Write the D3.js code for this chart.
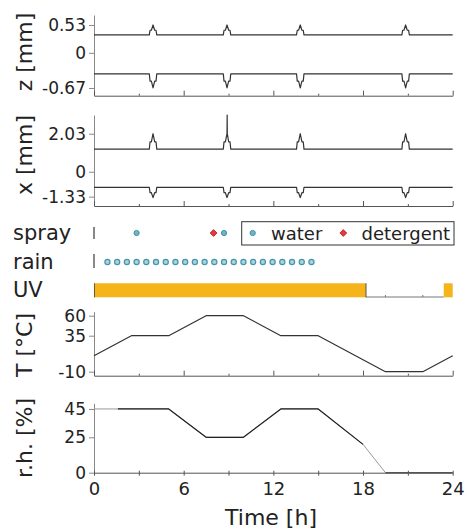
<!DOCTYPE html>
<meta charset="utf-8">
<style>
body { margin: 0; background: #fff; }
svg { font-family: "DejaVu Sans", Verdana, sans-serif; }
.left .domain { stroke: #888; }
.left .tick line { stroke: #888; }
.bottom .domain { stroke: #555; }
.bottom .tick line { stroke: #555; }
.tick text { fill: #222; }
</style>
<body>
<script src="https://cdn.jsdelivr.net/npm/d3@7"></script>
<script>
// time of the pulses seen in z and x (hours)
var pulseHours = [3.95, 8.9, 13.8, 20.85];
var pulseOffsets = [-0.25, -0.2, -0.11, 0, 0.11, 0.2, 0.25];

// levels: base, shoulder, peak
var zUpper = [0.34, 0.43, 0.53];
var zLower = [-0.40, -0.54, -0.67];
var xUpper = [1.21, 1.6, 2.03];
var xLower = [-0.83, -1.12, -1.38];
var xUpperSpikes = [2.03, 3.03, 2.03, 2.03];

var sprayWater = [2.85, 8.7];
var sprayDetergent = [8.0];
var rainHours = [0.9, 1.55, 2.2, 2.85, 3.5, 4.15, 4.8, 5.45, 6.1, 6.75, 7.4,
                 8.05, 8.7, 9.35, 10.0, 10.65, 11.3, 11.95, 12.6, 13.25, 13.9, 14.55];
var uvOn = [[0, 18.2], [23.4, 24]];
var uvMarks = [19.5, 22];

var tHours = [0, 2.5, 5, 7.5, 10, 12.5, 15, 19.5, 22, 24];
var tValues = [10, 35, 35, 60, 60, 35, 35, -10, -10, 10];

var rhHours = [0, 1.6, 5, 7.5, 10, 12.5, 15, 18, 19.5, 24];
var rhValues = [45, 45, 45, 25, 25, 45, 45, 20, 0, 0];

var hourTicks = [0, 3, 6, 9, 12, 15, 18, 21, 24];

var svg = d3.select("body").append("svg")
    .attr("width", 467)
    .attr("height", 531);

var x = d3.scaleLinear().domain([0, 24]).range([94, 452.7]);

var zY = d3.scaleLinear().domain([-0.817, 0.72]).range([95.7, 15]);
var xY = d3.scaleLinear().domain([-1.83, 3.03]).range([206, 115]);
var tY = d3.scaleLinear().domain([-15, 65]).range([375.7, 311.7]);
var rhY = d3.scaleLinear().domain([0, 49]).range([472.7, 403.3]);

function leftAxis(y, values) {
  svg.append("g")
      .attr("class", "left")
      .attr("transform", "translate(" + x(0) + ",0)")
      .call(d3.axisLeft(y).tickValues(values).tickSize(5).tickSizeOuter(0).tickPadding(3)
            .tickFormat(function(d) { return String(d); }))
      .attr("font-size", 17)
      .attr("font-family", null);
}

function bottomAxis(y0, labels) {
  var g = svg.append("g")
      .attr("class", "bottom")
      .attr("transform", "translate(0," + y0 + ")")
      .call(d3.axisBottom(x).tickValues(hourTicks).tickSizeOuter(0)
            .tickFormat(function(d) { return labels && d % 6 == 0 ? d : ""; }))
      .attr("font-size", 18)
      .attr("font-family", null);
  g.selectAll(".tick line")
      .attr("y1", function(d) { return labels ? -2 : 0; })
      .attr("y2", function(d) { return labels ? 3 : (d % 6 ? -2 : -5); });
  g.selectAll(".tick text").attr("y", 10);
}

function yTitle(text, cy) {
  svg.append("text")
      .attr("transform", "translate(32," + cy + ") rotate(-90)")
      .attr("text-anchor", "middle")
      .attr("font-size", 22)
      .attr("fill", "#222")
      .text(text);
}

function pulseLine(levels, spikes) {
  var pts = [[0, levels[0]]];
  pulseHours.forEach(function(h, i) {
    var lv = [levels[0], levels[1], levels[1], levels[2], levels[1], levels[1], levels[0]];
    pulseOffsets.forEach(function(o, j) {
      pts.push([h + o, lv[j]]);
      // a thin extra spike on top of the peak
      if (j == 3 && spikes && spikes[i] > levels[2]) {
        pts.push([h + 0.01, spikes[i]], [h + 0.02, levels[2]]);
      }
    });
  });
  pts.push([24, levels[0]]);
  return pts;
}

function drawLine(pts, y, color, width) {
  svg.append("path")
      .datum(pts)
      .attr("fill", "none")
      .attr("stroke", color)
      .attr("stroke-width", width)
      .attr("stroke-linejoin", "round")
      .attr("d", d3.line()
        .x(function(d) { return x(d[0]); })
        .y(function(d) { return y(d[1]); }));
}

// z panel
leftAxis(zY, [0.53, 0, -0.67]);
bottomAxis(95.7, false);
drawLine(pulseLine(zUpper), zY, "#333", 1.2);
drawLine(pulseLine(zLower), zY, "#333", 1.2);
yTitle("z [mm]", 52);

// x panel
leftAxis(xY, [2.03, 0, -1.33]);
bottomAxis(206, false);
drawLine(pulseLine(xUpper, xUpperSpikes), xY, "#333", 1.2);
drawLine(pulseLine(xLower), xY, "#333", 1.2);
yTitle("x [mm]", 155);

// spray / rain / UV
var rowLabels = [["spray", 240], ["rain", 269], ["UV", 297]];
svg.selectAll(".rowlabel")
    .data(rowLabels)
  .enter().append("text")
    .attr("x", 13)
    .attr("y", function(d) { return d[1]; })
    .attr("font-size", 21)
    .attr("fill", "#222")
    .text(function(d) { return d[0]; });

svg.append("line").attr("x1", x(0)).attr("x2", x(0)).attr("y1", 227).attr("y2", 239)
    .attr("stroke", "#888").attr("stroke-width", 2);
svg.append("line").attr("x1", x(0)).attr("x2", x(0)).attr("y1", 254).attr("y2", 268)
    .attr("stroke", "#888").attr("stroke-width", 2);

svg.selectAll(".water")
    .data(sprayWater)
  .enter().append("circle")
    .attr("cx", function(d) { return x(d); })
    .attr("cy", 233)
    .attr("r", 2.6)
    .attr("fill", "#74b3c6")
    .attr("stroke", "#3f8fa7");

svg.selectAll(".det")
    .data(sprayDetergent)
  .enter().append("path")
    .attr("transform", function(d) { return "translate(" + x(d) + ",233) rotate(45)"; })
    .attr("d", "M-2.4,-2.4H2.4V2.4H-2.4Z")
    .attr("fill", "#e8383d")
    .attr("stroke", "#b52027")
    .attr("stroke-width", 0.8);

svg.selectAll(".rain")
    .data(rainHours)
  .enter().append("circle")
    .attr("cx", function(d) { return x(d); })
    .attr("cy", 262)
    .attr("r", 2.6)
    .attr("fill", "#a9d2de")
    .attr("stroke", "#4795ab")
    .attr("stroke-width", 1.2);

// UV
svg.append("line").attr("x1", x(uvOn[0][1])).attr("x2", x(uvOn[1][0]))
    .attr("y1", 297).attr("y2", 297).attr("stroke", "#777");
svg.selectAll(".uvmark")
    .data(uvMarks)
  .enter().append("line")
    .attr("x1", function(d) { return x(d); })
    .attr("x2", function(d) { return x(d); })
    .attr("y1", 295).attr("y2", 297)
    .attr("stroke", "#777");
svg.selectAll(".uv")
    .data(uvOn)
  .enter().append("rect")
    .attr("x", function(d) { return x(d[0]); })
    .attr("width", function(d) { return x(d[1]) - x(d[0]); })
    .attr("y", 283.3)
    .attr("height", 14)
    .attr("fill", "#f6b41b");
svg.append("line").attr("x1", x(0) + 0.5).attr("x2", x(0) + 0.5).attr("y1", 283.3).attr("y2", 297.3)
    .attr("stroke", "#6b5a2e").attr("stroke-width", 1);
svg.append("line").attr("x1", x(uvOn[0][1])).attr("x2", x(uvOn[0][1])).attr("y1", 283.3).attr("y2", 297.3)
    .attr("stroke", "#555").attr("stroke-width", 1);

// legend
var legend = svg.append("g");
legend.append("rect")
    .attr("x", 241.7).attr("y", 221.7)
    .attr("width", 212.3).attr("height", 23.3)
    .attr("fill", "#fff").attr("stroke", "#333");
legend.append("circle")
    .attr("cx", 252.7).attr("cy", 233).attr("r", 2.6)
    .attr("fill", "#74b3c6").attr("stroke", "#3f8fa7");
legend.append("text")
    .attr("x", 271).attr("y", 239.5)
    .attr("font-size", 18).attr("fill", "#222")
    .text("water");
legend.append("path")
    .attr("transform", "translate(343.3,233) rotate(45)")
    .attr("d", "M-2.4,-2.4H2.4V2.4H-2.4Z")
    .attr("fill", "#e8383d").attr("stroke", "#b52027").attr("stroke-width", 0.8);
legend.append("text")
    .attr("x", 361.5).attr("y", 239.5)
    .attr("font-size", 18).attr("fill", "#222")
    .text("detergent");

// temperature
leftAxis(tY, [60, 35, -10]);
bottomAxis(375.7, false);
drawLine(d3.zip(tHours, tValues), tY, "#333", 1.2);
yTitle("T [°C]", 345);

// relative humidity
leftAxis(rhY, [45, 25, 0]);
bottomAxis(472.7, true);
var rhPts = d3.zip(rhHours, rhValues);
drawLine(rhPts, rhY, "#999", 1);
drawLine(rhPts.slice(1, 8), rhY, "#222", 1.2);
drawLine(rhPts.slice(8), rhY, "#555", 1.5);
yTitle("r.h. [%]", 438);

svg.append("text")
    .attr("x", 271)
    .attr("y", 525)
    .attr("text-anchor", "middle")
    .attr("font-size", 22)
    .attr("fill", "#222")
    .text("Time [h]");
</script>
